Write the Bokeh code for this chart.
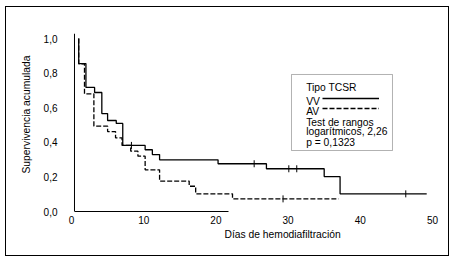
import math
from bokeh.plotting import figure
from bokeh.models import (FixedTicker, CustomJSTickFormatter, Label, BoxAnnotation,
                          Legend, LegendItem, Range1d, LinearAxis, Span, Title)
from bokeh.embed import file_html
from bokeh.resources import INLINE

# --- data (days, cumulative survival) ---
vv_time = [1.0, 2.0, 3.2, 4.2, 5.0, 6.2, 7.1, 10.2, 11.2, 12.2, 20.3, 27.0, 35.0, 37.2]
vv_surv = [0.855, 0.717, 0.688, 0.566, 0.526, 0.509, 0.382, 0.357, 0.329, 0.299,
           0.276, 0.247, 0.202, 0.102]
vv_end = 49.2
vv_censor = [8.3, 25.3, 30.1, 31.2, 46.3]

av_time = [1.0, 1.8, 3.1, 5.0, 6.1, 7.0, 8.2, 9.2, 10.2, 12.2, 16.3, 17.2, 22.3]
av_surv = [0.854, 0.680, 0.494, 0.462, 0.426, 0.382, 0.349, 0.320, 0.241, 0.176,
           0.146, 0.102, 0.073]
av_end = 37.0
av_censor = [29.3]

x_ticks = [0, 10, 20, 30, 40, 50]
y_ticks = [0.0, 0.2, 0.4, 0.6, 0.8, 1.0]

x_title = "Días de hemodiafiltración"
y_title = "Supervivencia acumulada"
legend_title = "Tipo TCSR"
series_names = ["VV", "AV"]
test_lines = ["Test de rangos", "logarítmicos, 2,26", "p = 0,1323"]

FONT = "Liberation Sans"


def step_xy(t, s, end):
    return [t[0]] + list(t) + [end], [1.0] + list(s) + [s[-1]]


def surv_at(t, s, c):
    val = 1.0
    for ti, si in zip(t, s):
        if ti <= c:
            val = si
    return val


p = figure(width=453, height=260, x_range=Range1d(0, 51.11), y_range=Range1d(0, 1.029),
           output_backend="svg", toolbar_location=None,
           x_axis_type=None, y_axis_type=None,
           min_border_left=71, min_border_right=13, min_border_top=33, min_border_bottom=49)
# outer frame of the figure (drawn above the canvas)
p.stylesheets = [":host{position:relative}"
                 ":host::after{content:'';position:absolute;left:5px;top:6px;right:4px;"
                 "bottom:4px;border:1px solid black;pointer-events:none;z-index:50}"]
p.grid.visible = False
p.outline_line_color = None
p.background_fill_color = "white"
p.border_fill_color = "white"


def bare_axis(**kw):
    ax = LinearAxis(major_tick_line_color=None, minor_tick_line_color=None,
                    major_tick_out=0, major_tick_in=0, minor_tick_out=0, minor_tick_in=0,
                    major_label_text_font=FONT, major_label_text_font_size="10px",
                    major_label_text_color="black",
                    axis_label_text_font=FONT, axis_label_text_font_size="10.3px",
                    axis_label_text_font_style="normal", axis_label_text_color="black",
                    **kw)
    return ax


# x axis: line (partial) and tick labels
xa_line = bare_axis(ticker=FixedTicker(ticks=[]), bounds=(0.415, 21.7),
                    axis_line_color="black", axis_line_width=1, major_label_standoff=0,
                    axis_label_standoff=0)
xa_lab = bare_axis(ticker=FixedTicker(ticks=x_ticks), axis_line_color=None,
                   major_label_standoff=4, axis_label_standoff=0)
p.add_layout(xa_line, "below")
p.add_layout(xa_lab, "below")
p.add_layout(Title(text=x_title, align="left", offset=153, standoff=0,
                   text_font=FONT, text_font_size="10.3px", text_font_style="normal",
                   text_color="black"), "below")

# y axis: tick labels, title, line as span
ya_lab = bare_axis(ticker=FixedTicker(ticks=y_ticks), axis_line_color=None,
                   major_label_standoff=14, axis_label_standoff=0,
                   formatter=CustomJSTickFormatter(
                       code="return tick.toFixed(1).replace('.', ',');"))
p.add_layout(ya_lab, "left")
p.add_layout(Title(text=y_title, align="left", offset=38, standoff=18,
                   text_font=FONT, text_font_size="10.3px", text_font_style="normal",
                   text_color="black"), "left")
p.add_layout(Span(location=0.415, dimension="height", line_color="black", line_width=1))

# curves
vx, vy = step_xy(vv_time, vv_surv, vv_end)
ax_, ay_ = step_xy(av_time, av_surv, av_end)
r_vv = p.step(vx, vy, mode="after", line_color="black", line_width=1.3)
r_av = p.step(ax_, ay_, mode="after", line_color="black", line_width=1.3, line_dash="5 2")

# censor marks
p.scatter(vv_censor, [surv_at(vv_time, vv_surv, c) for c in vv_censor], marker="dash",
          angle=math.pi / 2, size=7, line_color="black", line_width=1)
p.scatter(av_censor, [surv_at(av_time, av_surv, c) for c in av_censor], marker="dash",
          angle=math.pi / 2, size=7, line_color="black", line_width=1)

# legend box
p.add_layout(BoxAnnotation(left=30.47, right=44.46, top=0.792, bottom=0.3526,
                           fill_color="white", fill_alpha=1, line_color="black",
                           line_width=1))
legend_texts = [legend_title] + series_names + test_lines
legend_ys = [0.7145, 0.6376, 0.5798, 0.5162, 0.4601, 0.3965]
for txt, yy in zip(legend_texts, legend_ys):
    p.add_layout(Label(x=32.5, y=yy, text=txt, text_align="left", text_baseline="alphabetic",
                       text_font=FONT, text_font_size="10.3px", text_color="black"))

leg = Legend(items=[LegendItem(label=" ", renderers=[r_vv]),
                    LegendItem(label=" ", renderers=[r_av])],
             location=(251, 98), glyph_width=57, glyph_height=10, label_height=10,
             label_width=0, label_standoff=0, spacing=0, padding=0, margin=0,
             border_line_color=None, background_fill_alpha=0,
             label_text_font_size="1px")
p.add_layout(leg, "center")

open("out.html", "w").write(file_html(p, INLINE))
